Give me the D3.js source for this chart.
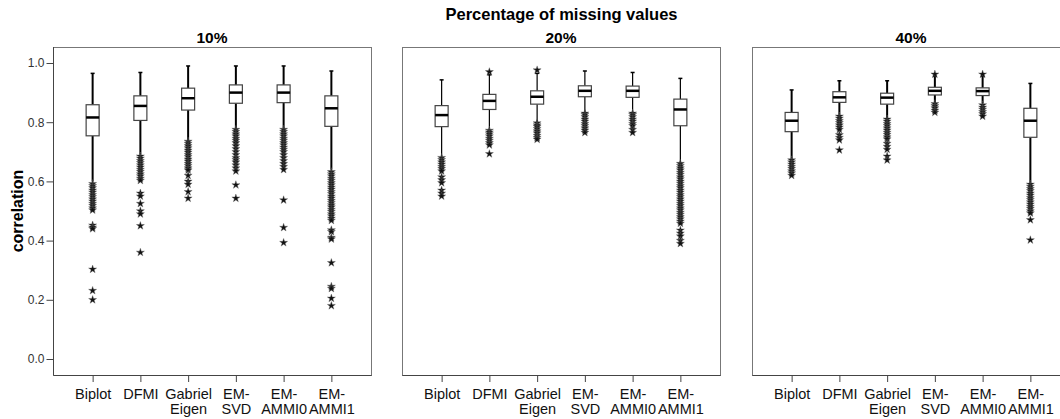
<!DOCTYPE html>
<html>
<head>
<meta charset="utf-8">
<script src="https://cdn.jsdelivr.net/npm/d3@7"></script>
<style>
  body { margin: 0; background: #fff; }
  text { font-family: Arial, "Liberation Sans", sans-serif; }
</style>
</head>
<body>
<script>
// categories
const panelNames = ["10%", "20%", "40%"];
const methods = ["Biplot", "DFMI", "Gabriel Eigen", "EM-SVD", "EM-AMMI0", "EM-AMMI1"];
const methodLabels = [["Biplot"], ["DFMI"], ["Gabriel", "Eigen"], ["EM-", "SVD"], ["EM-", "AMMI0"], ["EM-", "AMMI1"]];
const yTicks = [0, 0.2, 0.4, 0.6, 0.8, 1.0];

// 10% missing
const high10 = [0.965, 0.968, 0.990, 0.990, 0.990, 0.973];
const q3_10  = [0.859, 0.889, 0.915, 0.926, 0.926, 0.889];
const med10  = [0.816, 0.855, 0.881, 0.900, 0.900, 0.847];
const q1_10  = [0.754, 0.806, 0.841, 0.864, 0.866, 0.786];
const low10  = [0.600, 0.690, 0.740, 0.780, 0.780, 0.640];
const out10 = [
  [0.592, 0.585, 0.578, 0.570, 0.563, 0.555, 0.548, 0.540, 0.533, 0.525, 0.518, 0.510, 0.503, 0.452, 0.445, 0.440, 0.303, 0.231, 0.200],
  [0.685, 0.678, 0.670, 0.663, 0.655, 0.648, 0.640, 0.633, 0.625, 0.618, 0.610, 0.603, 0.560, 0.550, 0.525, 0.500, 0.490, 0.450, 0.360],
  [0.735, 0.728, 0.720, 0.713, 0.705, 0.698, 0.690, 0.683, 0.675, 0.668, 0.660, 0.653, 0.645, 0.638, 0.620, 0.600, 0.590, 0.565, 0.543],
  [0.775, 0.768, 0.760, 0.753, 0.745, 0.738, 0.730, 0.720, 0.710, 0.700, 0.690, 0.680, 0.673, 0.665, 0.655, 0.645, 0.635, 0.588, 0.543],
  [0.775, 0.768, 0.760, 0.753, 0.745, 0.738, 0.730, 0.723, 0.715, 0.708, 0.700, 0.690, 0.680, 0.670, 0.660, 0.650, 0.640, 0.537, 0.444, 0.393],
  [0.632, 0.625, 0.618, 0.610, 0.603, 0.595, 0.588, 0.580, 0.573, 0.565, 0.558, 0.550, 0.543, 0.535, 0.528, 0.520, 0.513, 0.505, 0.498, 0.490, 0.483, 0.475, 0.468, 0.436, 0.430, 0.410, 0.405, 0.325, 0.245, 0.238, 0.205, 0.180]
];

// 20% missing
const high20 = [0.943, 0.960, 0.965, 0.973, 0.968, 0.948];
const q3_20  = [0.856, 0.894, 0.906, 0.923, 0.922, 0.878];
const med20  = [0.824, 0.872, 0.886, 0.906, 0.906, 0.843];
const q1_20  = [0.785, 0.843, 0.861, 0.886, 0.884, 0.788];
const low20  = [0.685, 0.775, 0.800, 0.835, 0.835, 0.665];
const out20 = [
  [0.680, 0.673, 0.665, 0.658, 0.650, 0.643, 0.635, 0.615, 0.605, 0.595, 0.570, 0.560, 0.550],
  [0.970, 0.772, 0.766, 0.760, 0.753, 0.745, 0.738, 0.730, 0.723, 0.693],
  [0.976, 0.797, 0.790, 0.785, 0.778, 0.770, 0.763, 0.755, 0.748, 0.742],
  [0.830, 0.825, 0.818, 0.810, 0.803, 0.795, 0.788, 0.780, 0.773, 0.765],
  [0.830, 0.825, 0.818, 0.810, 0.803, 0.795, 0.788, 0.775, 0.765],
  [0.660, 0.653, 0.645, 0.638, 0.630, 0.623, 0.615, 0.608, 0.600, 0.593, 0.585, 0.578, 0.570, 0.563, 0.555, 0.548, 0.540, 0.533, 0.525, 0.518, 0.510, 0.503, 0.495, 0.488, 0.480, 0.473, 0.465, 0.458, 0.435, 0.425, 0.415, 0.400, 0.390]
];

// 40% missing
const high40 = [0.909, 0.940, 0.940, 0.955, 0.955, 0.931];
const q3_40  = [0.833, 0.903, 0.898, 0.918, 0.916, 0.847];
const med40  = [0.805, 0.884, 0.883, 0.906, 0.905, 0.805];
const q1_40  = [0.768, 0.867, 0.861, 0.892, 0.890, 0.749];
const low40  = [0.675, 0.825, 0.810, 0.865, 0.865, 0.595];
const out40 = [
  [0.672, 0.665, 0.658, 0.650, 0.643, 0.635, 0.628, 0.620],
  [0.820, 0.813, 0.805, 0.798, 0.790, 0.783, 0.775, 0.757, 0.748, 0.740, 0.706],
  [0.810, 0.803, 0.795, 0.788, 0.780, 0.773, 0.765, 0.758, 0.750, 0.743, 0.728, 0.718, 0.708, 0.685, 0.672],
  [0.962, 0.862, 0.855, 0.848, 0.840, 0.833],
  [0.962, 0.858, 0.850, 0.843, 0.835, 0.828, 0.820],
  [0.590, 0.583, 0.575, 0.568, 0.560, 0.553, 0.545, 0.538, 0.530, 0.523, 0.515, 0.508, 0.500, 0.493, 0.470, 0.402]
];

const panels = [
  { name: panelNames[0], high: high10, q3: q3_10, med: med10, q1: q1_10, low: low10, out: out10 },
  { name: panelNames[1], high: high20, q3: q3_20, med: med20, q1: q1_20, low: low20, out: out20 },
  { name: panelNames[2], high: high40, q3: q3_40, med: med40, q1: q1_40, low: low40, out: out40 }
];

const width = 1060, height = 419;
const panelLeft = [53, 402, 752];
const panelW = 318, plotTop = 47, plotBottom = 375;
const boxW = 13;

const svg = d3.select("body").append("svg")
  .attr("width", width)
  .attr("height", height);

const y = d3.scaleLinear().domain([0, 1]).range([359, 63]);
const x = d3.scalePoint().domain(methods).range([0, panelW]).padding(0.83);
const star = d3.symbol(d3.symbolStar).size(20);

// overall title
svg.append("text")
  .attr("x", panelLeft[0] + (panelLeft[2] + panelW - panelLeft[0]) / 2)
  .attr("y", 20)
  .attr("text-anchor", "middle")
  .style("font-size", "16.5px")
  .style("font-weight", "bold")
  .text("Percentage of missing values");

// y label
svg.append("text")
  .attr("transform", "translate(23," + (plotTop + plotBottom) / 2 + ") rotate(-90)")
  .attr("text-anchor", "middle")
  .style("font-size", "16px")
  .style("font-weight", "bold")
  .text("correlation");

panels.forEach((p, pi) => {
  const g = svg.append("g").attr("transform", "translate(" + panelLeft[pi] + ",0)");

  g.append("text")
    .attr("x", panelW / 2)
    .attr("y", 43)
    .attr("text-anchor", "middle")
    .style("font-size", "15.5px")
    .style("font-weight", "bold")
    .text(p.name);

  // frame
  g.append("rect")
    .attr("x", 0.5).attr("y", plotTop + 0.5)
    .attr("width", panelW).attr("height", plotBottom - plotTop)
    .attr("fill", "none")
    .attr("stroke", "#777")
    .attr("stroke-width", 1);

  // x axis
  const xa = g.append("g")
    .attr("transform", "translate(0," + plotBottom + ")")
    .call(d3.axisBottom(x).tickSize(7).tickSizeOuter(0));
  xa.select(".domain").attr("stroke", "#444");
  xa.selectAll(".tick line").attr("stroke", "#444");
  xa.selectAll(".tick text").each(function(d, i) {
    const t = d3.select(this).text(null)
      .attr("y", 24).attr("dy", null)
      .style("font-size", "14.5px")
      .attr("fill", "#111");
    methodLabels[i].forEach((line, li) => {
      t.append("tspan").attr("x", 0).attr("dy", li === 0 ? 0 : 15).text(line);
    });
  });

  if (pi === 0) {
    const ya = g.append("g")
      .attr("transform", "translate(0.5,0)")
      .call(d3.axisLeft(y).tickValues(yTicks).tickFormat(d3.format(".1f")).tickSize(7).tickSizeOuter(0));
    ya.select(".domain").attr("d", "M0," + plotTop + "V" + plotBottom).attr("stroke", "#444");
    ya.selectAll(".tick line").attr("stroke", "#444");
    ya.selectAll(".tick text").style("font-size", "12px").attr("fill", "#333").attr("x", -9);
  }

  const sw = pi === 1 ? 1.2 : 2;
  const items = methods.map((m, i) => ({
    m, high: p.high[i], q3: p.q3[i], med: p.med[i], q1: p.q1[i], low: p.low[i], out: p.out[i]
  }));

  const bx = g.selectAll(".bx").data(items).enter().append("g")
    .attr("class", "bx")
    .attr("transform", d => "translate(" + x(d.m) + ",0)");

  // whiskers
  bx.append("line")
    .attr("y1", d => y(d.high)).attr("y2", d => y(d.q3))
    .attr("stroke", "#000").attr("stroke-width", sw);
  bx.append("line")
    .attr("y1", d => y(d.q1)).attr("y2", d => y(d.low))
    .attr("stroke", "#000").attr("stroke-width", sw);
  bx.append("line")
    .attr("x1", -2).attr("x2", 2)
    .attr("y1", d => y(d.high)).attr("y2", d => y(d.high))
    .attr("stroke", "#000").attr("stroke-width", 1.5);

  // outliers
  bx.selectAll("path.o").data(d => d.out).enter().append("path")
    .attr("class", "o")
    .attr("d", star)
    .attr("transform", v => "translate(0," + y(v) + ")")
    .attr("fill", "#111")
    .attr("stroke", "#666")
    .attr("stroke-width", 0.4);

  // box
  bx.append("rect")
    .attr("x", -boxW / 2).attr("width", boxW)
    .attr("y", d => y(d.q3)).attr("height", d => y(d.q1) - y(d.q3))
    .attr("fill", "#fff")
    .attr("stroke", "#444")
    .attr("stroke-width", 1.2);
  bx.append("line")
    .attr("x1", -boxW / 2).attr("x2", boxW / 2)
    .attr("y1", d => y(d.med)).attr("y2", d => y(d.med))
    .attr("stroke", "#000").attr("stroke-width", 2.5);
});
</script>
</body>
</html>
